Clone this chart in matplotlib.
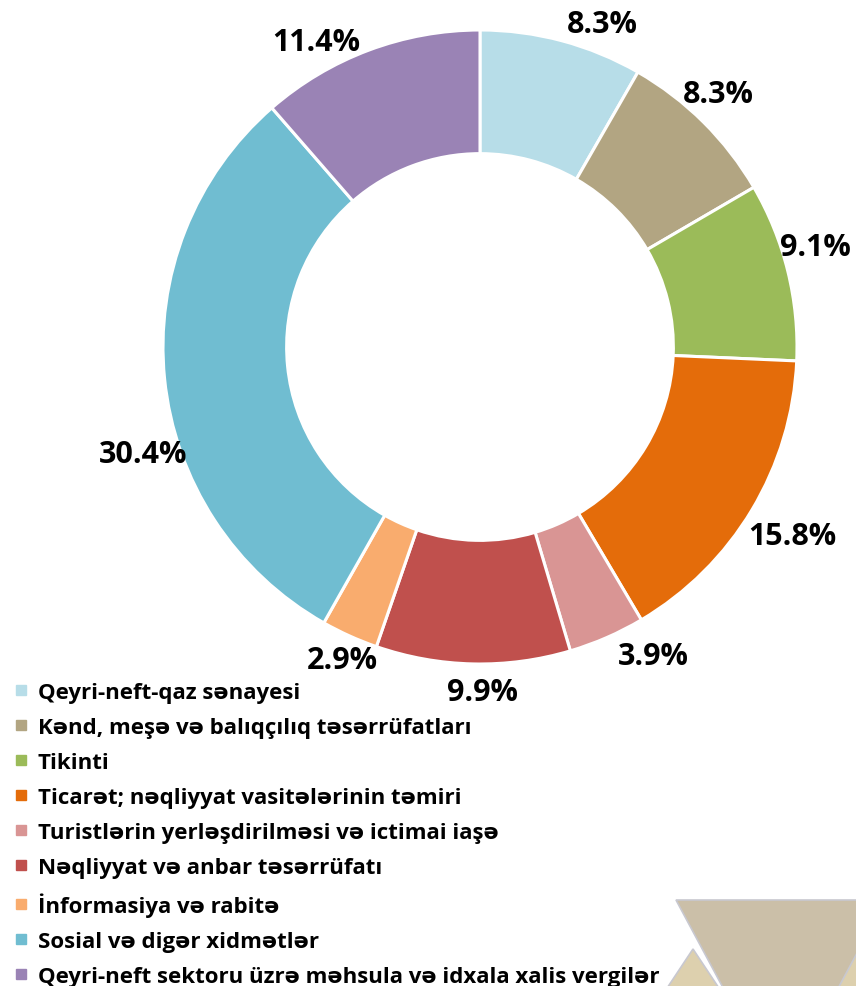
import numpy as np
import matplotlib.pyplot as plt
from matplotlib.lines import Line2D
from matplotlib.patches import Polygon

plt.rcParams['font.family'] = ['Open Sans', 'DejaVu Sans']

# 데이터
sektorlar = ['Qeyri-neft-qaz sənayesi',
             'Kənd, meşə və balıqçılıq təsərrüfatları',
             'Tikinti',
             'Ticarət; nəqliyyat vasitələrinin təmiri',
             'Turistlərin yerləşdirilməsi və ictimai iaşə',
             'Nəqliyyat və anbar təsərrüfatı',
             'İnformasiya və rabitə',
             'Sosial və digər xidmətlər',
             'Qeyri-neft sektoru üzrə məhsula və idxala xalis vergilər']
paylar = [8.3, 8.3, 9.1, 15.8, 3.9, 9.9, 2.9, 30.4, 11.4]
rengler = ['#B7DDE8', '#B2A582', '#9BBB59', '#E46C0A', '#D99594',
           '#C0504D', '#F9AC6E', '#70BDD1', '#9A83B5']

# label positions (pixels in the picture), layout only
label_px = [(602, 25), (718, 95), (815, 248), (792, 537), (653, 657),
            (483, 693), (342, 661), (143, 455), (316, 43)]

W, H = 856, 987
cx, cy, R = 480, 348, 317

fig = plt.figure(figsize=(W / 100, H / 100), dpi=100)
ax = fig.add_axes([0, 0, 1, 1])

ax.pie(paylar, colors=rengler, startangle=90, counterclock=False, radius=1,
       wedgeprops=dict(width=0.39, edgecolor='white', linewidth=2.2))

ax.set_xlim(-cx / R, (W - cx) / R)
ax.set_ylim(-(H - cy) / R, cy / R)
ax.set_aspect('equal')
ax.axis('off')

for (px, py), v in zip(label_px, paylar):
    ax.text((px - cx) / R, (cy - py) / R, f'{v:.1f}%', ha='center', va='center',
            fontsize=22, fontweight='bold', color='black')

# decorative triangles bottom right
def tri(pts, fc):
    p = Polygon([((x - cx) / R, (cy - y) / R) for x, y in pts], closed=True,
                facecolor=fc, edgecolor='#C8C8D0', linewidth=1.2)
    ax.add_patch(p)

tri([(676, 901), (900, 901), (788, 1110)], '#CBBFA8')
tri([(620, 1060), (693, 950), (766, 1060)], '#DDD0AE')
tri([(800, 1060), (870, 930), (940, 1060)], '#DDD0AE')

handles = [Line2D([], [], marker='s', linestyle='none', markersize=7.5,
                  markerfacecolor=c, markeredgecolor=c) for c in rengler]
fig.legend(handles, sektorlar, loc='upper left', bbox_to_anchor=(0.017, 0.308),
           frameon=False, prop=dict(size=16, weight='bold'),
           handlelength=0.6, handletextpad=0.45, labelspacing=0.63,
           borderaxespad=0, borderpad=0)

fig.savefig('out.png', dpi=100)
